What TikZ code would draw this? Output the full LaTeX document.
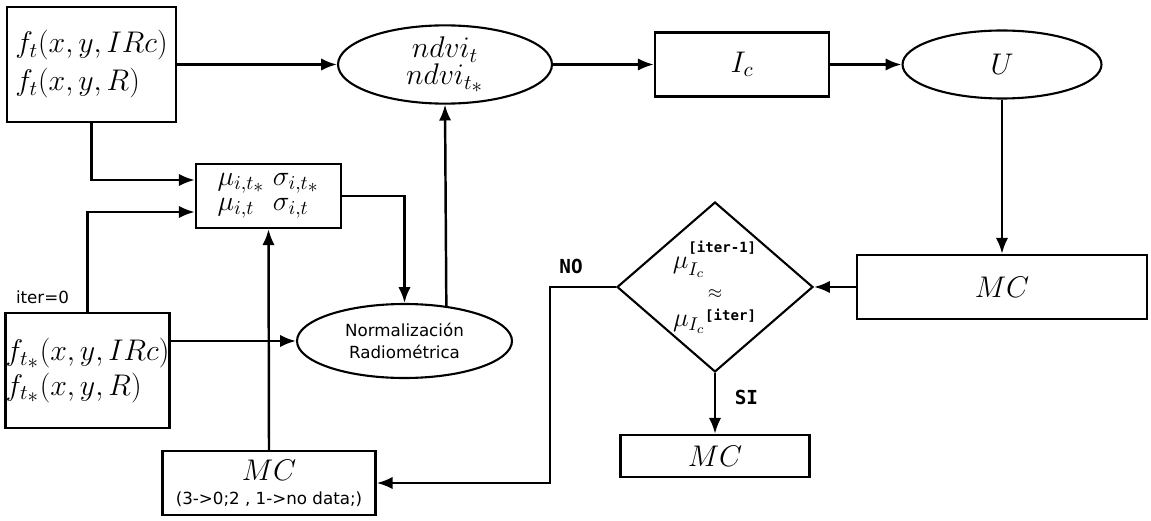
\RequirePackage{fix-cm}
\documentclass[tikz,border=0pt]{standalone}
\usepackage{fontspec}
\setsansfont{DejaVu Sans}
\setmonofont{DejaVu Sans Mono}
\usetikzlibrary{shapes.geometric,arrows.meta}

\begin{document}
\begin{tikzpicture}[x=0.02cm, y=-0.02cm,
    caja/.style={rectangle, draw, line width=1.4pt, inner sep=0pt, font=\fontsize{17}{21.6}\selectfont},
    elipse/.style={ellipse, draw, line width=1.2pt, inner sep=0pt, font=\fontsize{17}{21.6}\selectfont},
    rombo/.style={diamond, draw, line width=1.2pt, inner sep=0pt, aspect=1.15, font=\fontsize{15}{17}\selectfont},
    flecha/.style={line width=1.4pt, -{Latex[length=9pt, width=7pt]}},
    sans/.style={font=\fontsize{9.5}{12.5}\selectfont\sffamily},
    etiq/.style={font=\fontsize{11}{13}\selectfont\ttfamily\bfseries, inner sep=2pt}]
  \useasboundingbox (0,0) rectangle (1151,520);
  \node[caja, minimum width=3.38cm, minimum height=2.3cm, align=left] (ft) at (91.5,64.5)
    {$f_t(x,y,IRc)$\\$f_t(x,y,R)$};
  \node[elipse, minimum width=4.28cm, minimum height=1.38cm, align=center,
    font=\fontsize{17}{13.6}\selectfont] (ndvi) at (445,64.5) {$ndvi_t$\\$ndvi_{t_{\scriptstyle *}}$};
  \node[caja, minimum width=3.48cm, minimum height=1.28cm] (ic) at (742,64.5) {$I_c$};
  \node[elipse, minimum width=3.98cm, minimum height=1.36cm] (u) at (1002,64.5) {$U$};
  \node[caja, minimum width=5.8cm, minimum height=1.28cm] (mcd) at (1002,287) {$MC$};
  \node[rombo, minimum width=3.92cm, minimum height=3.4cm, align=center] (comp) at (715,287)
    {$\mu_{I_c}^{\raisebox{4pt}{\fontsize{8}{8}\selectfont\ttfamily\bfseries [iter-1]}}$\\[0pt]
     $\scriptstyle\approx$\\[-1pt]
     $\mu_{I_c}{}^{\raisebox{-2pt}{\fontsize{8}{8}\selectfont\ttfamily\bfseries [iter]}}$};
  \node[caja, minimum width=3.78cm, minimum height=0.84cm] (mcf) at (715,456) {$MC$};
  \node[caja, minimum width=2.9cm, minimum height=1.28cm, align=left,
    font=\fontsize{16}{14.5}\selectfont] (mu) at (268.5,196)
    {$\mu_{i,t_{\scriptstyle *}}\;\sigma_{i,t_{\scriptstyle *}}$\\$\mu_{i,t\hphantom{{}_{\scriptstyle *}}}\;\sigma_{i,t}$};
  \node[elipse, minimum width=4.3cm, minimum height=1.48cm, align=center, sans] (norm)
    at (404.5,341) {Normalización\\Radiométrica};
  \node[caja, minimum width=3.26cm, minimum height=2.3cm, align=left] (fts) at (87.5,370.5)
    {$f_{t_{\scriptstyle *}}(x,y,IRc)$\\[-2pt]$f_{t_{\scriptstyle *}}(x,y,R)$};
  \node[caja, minimum width=4.26cm, minimum height=1.28cm, align=center] (mci) at (269,483)
    {$MC$\\[-8pt]{\sffamily\fontsize{9.5}{12}\selectfont (3->0;2 , 1->no data;)}};
  \node[sans] (iter) at (42.5,297) {iter=0};
  % fila superior
  \draw[flecha] (ft) -- (ndvi);
  \draw[flecha] (ndvi) -- (ic);
  \draw[flecha] (ic) -- (u);
  \draw[flecha] (u) -- (mcd);
  \draw[flecha] (mcd) -- (comp);
  \draw[flecha] (comp) -- node[etiq, right=0.3cm, pos=0.4]{SI} (mcf);
  \draw[flecha] (comp.west) -- node[etiq, above=0.17cm, pos=0.68]{NO} ++(-66,0) |- (mci.east);
  % parte izquierda
  \draw[flecha] (ft.south) |- ([yshift=0.32cm]mu.west);
  \draw[flecha] (fts.north) |- ([yshift=-0.32cm]mu.west);
  \draw[flecha] (mci.north) -- (mu.south);
  \draw[flecha] (fts.east |- norm) -- (norm);
  \draw[flecha] (mu.east) -| (norm.north);
  \draw[flecha] (norm.40.6) -- (ndvi.south);
\end{tikzpicture}
\end{document}
